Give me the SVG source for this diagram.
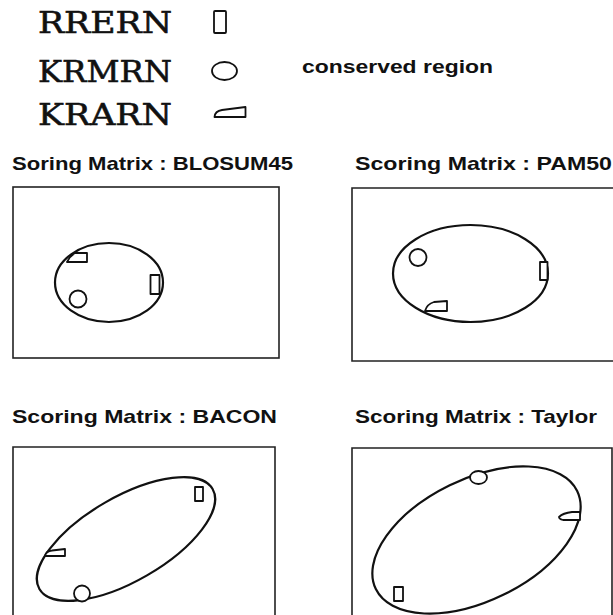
<svg xmlns="http://www.w3.org/2000/svg" width="613" height="615" viewBox="0 0 613 615">
<style>
.leg{font-family:"DejaVu Serif","Liberation Serif",serif;font-size:30px;fill:#111;stroke:#111;stroke-width:0.6}
.ttl{font-family:"Liberation Sans",Arial,sans-serif;font-weight:bold;font-size:19px;fill:#111}
.frame{fill:none;stroke:#222;stroke-width:1.6}
.ell{fill:none;stroke:#111;stroke-width:2.2}
.sym{fill:#fff;stroke:#111;stroke-width:1.8;stroke-linejoin:round}
</style>
<rect width="613" height="615" fill="#fff"/>
<g id="legend">
<text class="leg" x="38" y="33" textLength="134" lengthAdjust="spacingAndGlyphs">RRERN</text>
<text class="leg" x="38" y="82" textLength="134" lengthAdjust="spacingAndGlyphs">KRMRN</text>
<text class="leg" x="38" y="125" textLength="134" lengthAdjust="spacingAndGlyphs">KRARN</text>
<rect class="sym" x="214" y="11" width="12" height="22" rx="1"/>
<ellipse class="sym" cx="224.5" cy="71" rx="12.5" ry="9"/>
<path class="sym" d="M214.5,117 Q215,111 222,110 L245.5,107 L245.5,117 Z"/>
<text class="ttl" x="302" y="73" textLength="191" lengthAdjust="spacingAndGlyphs" style="font-size:18px">conserved region</text>
</g>
<g id="panel-blosum45">
<text class="ttl" x="12" y="170" textLength="281" lengthAdjust="spacingAndGlyphs">Soring Matrix : BLOSUM45</text>
<rect class="frame" x="13" y="187" width="266" height="171"/>
<ellipse class="ell" cx="109" cy="282.5" rx="54" ry="39.5"/>
<rect class="sym" x="150.5" y="275" width="9" height="19"/>
<circle class="sym" cx="78" cy="299" r="8.5"/>
<path class="sym" d="M67,262 Q70,256 75,253 L87,253 L87,262 Z"/>
</g>
<g id="panel-pam50">
<text class="ttl" x="355" y="170" textLength="257" lengthAdjust="spacingAndGlyphs">Scoring Matrix : PAM50</text>
<path class="frame" d="M614,188 L352,188 L352,361 L614,361"/>
<ellipse class="ell" cx="470.5" cy="273.5" rx="77.5" ry="48.5"/>
<circle class="sym" cx="418" cy="257.5" r="8.5"/>
<rect class="sym" x="540" y="262" width="7.5" height="18"/>
<path class="sym" d="M425,311 Q427,304 434,302 L447,301 L447,311 Z"/>
</g>
<g id="panel-bacon">
<text class="ttl" x="12" y="423" textLength="265" lengthAdjust="spacingAndGlyphs">Scoring Matrix : BACON</text>
<path class="frame" d="M13,616 L13,447 L275,447 L275,616"/>
<ellipse class="ell" cx="126" cy="539" rx="100" ry="42" transform="rotate(-30 126 539)"/>
<rect class="sym" x="195" y="487" width="8" height="14"/>
<path class="sym" d="M45,556 Q46,551 52,550.5 L65,549 L65,556 Z"/>
<circle class="sym" cx="82" cy="593.5" r="8"/>
</g>
<g id="panel-taylor">
<text class="ttl" x="355" y="423" textLength="242" lengthAdjust="spacingAndGlyphs">Scoring Matrix : Taylor</text>
<path class="frame" d="M352,616 L352,448 L612,448 L612,616"/>
<ellipse class="ell" cx="476.5" cy="540" rx="112" ry="61" transform="rotate(-26 476.5 540)"/>
<ellipse class="sym" cx="478.5" cy="477.5" rx="8.5" ry="6.5"/>
<path class="sym" d="M559,517 Q563,513 572,512 L580,512 L580,520 L563,520 Q559,519 559,517 Z"/>
<rect class="sym" x="394" y="587" width="9" height="14"/>
</g>
<g id="connectors"></g>
</svg>
